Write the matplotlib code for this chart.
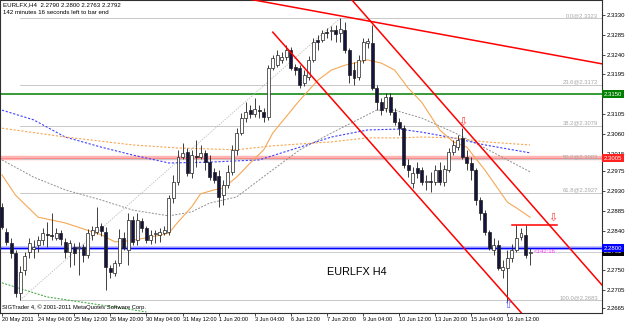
import matplotlib
matplotlib.use("Agg")
import matplotlib.pyplot as plt

# EURLFX H4 bars, 20 May 2011 20:00 .. 17 Jun 08:00
opens = [
    2.2894, 2.2837, 2.2812, 2.2790, 2.2699, 2.2751, 2.2792, 2.2799, 2.2808, 2.2819,
    2.2833, 2.2831, 2.2824, 2.2835, 2.2815, 2.2792, 2.2803, 2.2801, 2.2803, 2.2785,
    2.2831, 2.2837, 2.2851, 2.2837, 2.2756, 2.2744, 2.2767, 2.2824, 2.2797, 2.2865,
    2.2819, 2.2862, 2.2846, 2.2819, 2.2833, 2.2831, 2.2835, 2.2837, 2.2915, 2.2951,
    2.3008, 2.3019, 2.2971, 2.3010, 2.3008, 2.3017, 2.2997, 2.2974, 2.2964, 2.2921,
    2.2944, 2.2974, 2.3024, 2.3062, 2.3096, 2.3114, 2.3105, 2.3114, 2.3110, 2.3098,
    2.3210, 2.3216, 2.3228, 2.3235, 2.3250, 2.3212, 2.3210, 2.3176, 2.3189, 2.3228,
    2.3273, 2.3273, 2.3291, 2.3294, 2.3296, 2.3289, 2.3296, 2.3250, 2.3205, 2.3189,
    2.3228, 2.3266, 2.3266, 2.3164, 2.3132, 2.3119, 2.3144, 2.3110, 2.3087, 2.3073,
    2.2990, 2.2948, 2.2983, 2.2978, 2.2951, 2.2953, 2.2951, 2.2978, 2.2951, 2.2978,
    2.3019, 2.3030, 2.3051, 2.3008, 2.2994, 2.2978, 2.2910, 2.2881, 2.2837, 2.2797,
    2.2808, 2.2751, 2.2756, 2.2778, 2.2797, 2.2826, 2.2831, 2.2790,
]
highs = [
    2.2903, 2.2846, 2.2824, 2.2797, 2.2760, 2.2792, 2.2824, 2.2819, 2.2828, 2.2846,
    2.2860, 2.2881, 2.2846, 2.2842, 2.2824, 2.2819, 2.2812, 2.2815, 2.2810, 2.2844,
    2.2851, 2.2894, 2.2858, 2.2849, 2.2762, 2.2774, 2.2844, 2.2837, 2.2881, 2.2874,
    2.2881, 2.2869, 2.2851, 2.2842, 2.2842, 2.2846, 2.2851, 2.2921, 2.2967, 2.3024,
    2.3039, 2.3028, 2.3024, 2.3046, 2.3035, 2.3024, 2.3012, 2.2983, 2.2978, 2.2955,
    2.2990, 2.3035, 2.3073, 2.3108, 2.3132, 2.3126, 2.3142, 2.3126, 2.3119, 2.3216,
    2.3239, 2.3250, 2.3246, 2.3262, 2.3257, 2.3219, 2.3216, 2.3205, 2.3237, 2.3278,
    2.3285, 2.3296, 2.3300, 2.3305, 2.3307, 2.3323, 2.3314, 2.3255, 2.3223, 2.3239,
    2.3278, 2.3278, 2.3307, 2.3171, 2.3142, 2.3153, 2.3153, 2.3119, 2.3096, 2.3080,
    2.3002, 2.2985, 2.2997, 2.2985, 2.2967, 2.2974, 2.2990, 2.2997, 2.2990, 2.3028,
    2.3046, 2.3058, 2.3073, 2.3024, 2.3007, 2.2983, 2.2917, 2.2887, 2.2842, 2.2824,
    2.2819, 2.2774, 2.2797, 2.2810, 2.2853, 2.2846, 2.2853, 2.2800,
]
lows = [
    2.2844, 2.2808, 2.2778, 2.2690, 2.2683, 2.2740, 2.2778, 2.2778, 2.2792, 2.2808,
    2.2803, 2.2819, 2.2819, 2.2808, 2.2778, 2.2758, 2.2762, 2.2740, 2.2769, 2.2778,
    2.2819, 2.2833, 2.2828, 2.2706, 2.2733, 2.2737, 2.2760, 2.2797, 2.2762, 2.2808,
    2.2808, 2.2837, 2.2812, 2.2810, 2.2812, 2.2815, 2.2831, 2.2831, 2.2903, 2.2944,
    2.3002, 2.2964, 2.2960, 2.2985, 2.3002, 2.2978, 2.2955, 2.2948, 2.2894, 2.2899,
    2.2937, 2.2967, 2.3012, 2.3058, 2.3087, 2.3096, 2.3098, 2.3096, 2.3087, 2.3092,
    2.3205, 2.3212, 2.3221, 2.3228, 2.3205, 2.3194, 2.3164, 2.3169, 2.3182, 2.3223,
    2.3250, 2.3269, 2.3278, 2.3273, 2.3269, 2.3269, 2.3244, 2.3176, 2.3171, 2.3182,
    2.3221, 2.3255, 2.3160, 2.3114, 2.3103, 2.3110, 2.3103, 2.3080, 2.3058, 2.2983,
    2.2962, 2.2937, 2.2960, 2.2944, 2.2933, 2.2928, 2.2944, 2.2944, 2.2942, 2.2974,
    2.3012, 2.3024, 2.3002, 2.2978, 2.2955, 2.2899, 2.2865, 2.2831, 2.2797, 2.2785,
    2.2751, 2.2733, 2.2676, 2.2769, 2.2792, 2.2819, 2.2778, 2.2763,
]
closes = [
    2.2849, 2.2815, 2.2790, 2.2699, 2.2746, 2.2783, 2.2812, 2.2803, 2.2819, 2.2835,
    2.2831, 2.2828, 2.2835, 2.2821, 2.2792, 2.2812, 2.2790, 2.2803, 2.2785, 2.2835,
    2.2842, 2.2849, 2.2840, 2.2758, 2.2746, 2.2767, 2.2824, 2.2801, 2.2865, 2.2815,
    2.2865, 2.2846, 2.2819, 2.2831, 2.2835, 2.2837, 2.2842, 2.2915, 2.2951, 2.3008,
    2.3017, 2.2971, 2.3012, 2.3008, 2.3017, 2.2997, 2.2962, 2.2955, 2.2917, 2.2944,
    2.2974, 2.3024, 2.3062, 2.3096, 2.3110, 2.3105, 2.3117, 2.3112, 2.3098, 2.3210,
    2.3232, 2.3239, 2.3235, 2.3250, 2.3210, 2.3205, 2.3171, 2.3194, 2.3228, 2.3269,
    2.3269, 2.3289, 2.3289, 2.3296, 2.3287, 2.3298, 2.3250, 2.3194, 2.3187, 2.3228,
    2.3269, 2.3271, 2.3164, 2.3132, 2.3114, 2.3144, 2.3110, 2.3087, 2.3073, 2.2990,
    2.2978, 2.2971, 2.2971, 2.2951, 2.2953, 2.2951, 2.2978, 2.2951, 2.2980, 2.3019,
    2.3035, 2.3046, 2.3008, 2.2994, 2.2978, 2.2910, 2.2881, 2.2837, 2.2801, 2.2808,
    2.2756, 2.2758, 2.2778, 2.2797, 2.2824, 2.2835, 2.2785, 2.2792,
]

# moving averages (bar index, price)
ma_fast_bars = [0, 3, 8, 14, 22, 25, 28, 33, 37, 39, 42, 44, 47, 49, 52, 55, 58, 60, 66, 70,
                73, 76, 81, 84, 87, 90, 93, 97, 100, 103, 107, 112, 114, 117]
ma_fast = [2.2967, 2.2921, 2.2871, 2.2858, 2.2831, 2.2815, 2.2817, 2.2826, 2.2835, 2.2860,
           2.2894, 2.2924, 2.2933, 2.2937, 2.2962, 2.2994, 2.3024, 2.3062, 2.3137, 2.3182,
           2.3205, 2.3216, 2.3228, 2.3221, 2.3205, 2.3164, 2.3132, 2.3069, 2.3042, 2.3030,
           2.2978, 2.2905, 2.2892, 2.2871]
ma_slow_bars = [0, 14, 29, 39, 52, 60, 73, 81, 88, 93, 100, 107, 117]
ma_slow = [2.3073, 2.3053, 2.3035, 2.3028, 2.3024, 2.3033, 2.3042, 2.3051, 2.3051, 2.3053,
           2.3051, 2.3042, 2.3035]
ma_blue_bars = [0, 7, 14, 22, 29, 37, 46, 57, 66, 73, 81, 88, 93, 100, 107, 117]
ma_blue = [2.3114, 2.3092, 2.3053, 2.3030, 2.3012, 2.2994, 2.2996, 2.3001, 2.3030, 2.3053,
           2.3069, 2.3071, 2.3064, 2.3051, 2.3035, 2.3017]
ma_gray_bars = [0, 7, 14, 22, 29, 37, 42, 46, 52, 59, 66, 73, 83, 87, 93, 100, 107, 117]
ma_gray = [2.3001, 2.2962, 2.2933, 2.2910, 2.2887, 2.2874, 2.2883, 2.2903, 2.2917, 2.2971,
           2.3024, 2.3062, 2.3114, 2.3114, 2.3096, 2.3064, 2.3028, 2.2974]
ma_green_bars = [0, 10, 32]
ma_green = [2.2722, 2.2690, 2.2656]

time_label_bars = [0, 8, 16, 24, 32, 40, 48, 56, 64, 72, 80, 88, 96, 104, 112]
time_labels = ["20 May 2011", "24 May 04:00", "25 May 12:00", "26 May 20:00", "30 May 04:00",
               "31 May 12:00", "1 Jun 20:00", "3 Jun 04:00", "6 Jun 12:00", "7 Jun 20:00",
               "9 Jun 04:00", "10 Jun 12:00", "13 Jun 20:00", "15 Jun 04:00", "16 Jun 12:00"]
price_ticks = [2.3330, 2.3285, 2.3240, 2.3195, 2.3105, 2.3060, 2.3015, 2.2975, 2.2930,
               2.2885, 2.2840, 2.2750, 2.2705, 2.2665]

fib_pcts = ["0.0", "23.6", "38.2", "50.0", "61.8", "100.0"]
fib_prices = [2.3323, 2.3172, 2.3079, 2.3003, 2.2927, 2.2683]
fib_low_bar, fib_high_bar = 4, 75

green_level = 2.3150
red_level = 2.3005
blue_level = 2.2800
last_price = 2.2792

# trend lines (bar, price) pairs
line_long = ([50, 133], [2.3375, 2.3219])
line_chan_top = ([70, 135], [2.3452, 2.2693])
line_chan_bot = ([60, 125], [2.3291, 2.2539])
line_resist = ([113, 123], [2.2853, 2.2853])
down_arrows = ([102, 122], [2.3087, 2.2869])
up_arrows = ([112], [2.2672])

W, H = 625, 323
fig = plt.figure(figsize=(W / 100, H / 100), dpi=100)
ax = fig.add_axes([0, 10 / H, 602 / W, 313 / H])
ax.set_xlim(-0.44, 132.95)
ax.set_ylim(2.26535, 2.3364)

FONT = "Liberation Sans"

# horizontal levels
ax.axhline(red_level, color="#ffb4b4", lw=3.2, zorder=1)
ax.axhline(red_level, color="#ff8080", lw=0.6, zorder=1)
ax.axhline(blue_level, color="#b8b8ff", lw=2.6, zorder=1)
ax.axhline(blue_level, color="#0000ff", lw=1.0, zorder=1)
ax.axhline(green_level, color="#008000", lw=1.1, zorder=1)
ax.axhline(last_price, color="#c8c8c8", lw=0.6, zorder=1)

# fibonacci
for pct, p in zip(fib_pcts, fib_prices):
    ax.plot([fib_low_bar, 140], [p, p], color="#c8c8c8", lw=0.7, zorder=1)
    ax.text(0.993, p, f"{pct}@{p:.4f}", transform=ax.get_yaxis_transform(),
            ha="right", va="bottom", fontsize=4.2, color="#a8a8a8", family=FONT)
ax.plot([fib_low_bar, fib_high_bar], [fib_prices[-1], fib_prices[0]],
        color="#b8b8b8", lw=0.6, ls=(0, (1.5, 1.5)), zorder=1)

# moving averages
ax.plot(ma_green_bars, ma_green, color="#30a030", lw=0.7, ls=(0, (2, 1.5)), zorder=2)
ax.plot(ma_gray_bars, ma_gray, color="#909090", lw=0.7, ls=(0, (2, 1.5)), zorder=2)
ax.plot(ma_blue_bars, ma_blue, color="#4040ff", lw=0.8, ls=(0, (2, 1.5)), zorder=2)
ax.plot(ma_slow_bars, ma_slow, color="#f5a855", lw=0.8, ls=(0, (2, 1.5)), zorder=2)
ax.plot(ma_fast_bars, ma_fast, color="#f5a855", lw=0.8, zorder=2)

# candles
for i, (o, h, l, c) in enumerate(zip(opens, highs, lows, closes)):
    ax.vlines(i, l, h, color="#202020", lw=0.6, zorder=3)
    lo, hi = min(o, c), max(o, c)
    if hi - lo < 0.00008:
        ax.hlines((o + c) / 2, i - 0.35, i + 0.35, color="#202020", lw=0.7, zorder=4)
        continue
    face = "white" if c >= o else "#14143c"
    ax.bar(i, hi - lo, bottom=lo, width=0.66, color=face, edgecolor="#202020",
           linewidth=0.5, zorder=4)

# trend lines
for xs, ys in (line_long, line_chan_top, line_chan_bot, line_resist):
    ax.plot(xs, ys, color="#ff0000", lw=1.1, zorder=5)

for b, p in zip(*down_arrows):
    ax.text(b, p, "\u21e9", color="#ff4040", fontsize=8, ha="center", va="center", zorder=6)
for b, p in zip(*up_arrows):
    ax.text(b, p, "\u21e7", color="#6060ff", fontsize=8, ha="center", va="center", zorder=6)

# axes styling
for s in ax.spines.values():
    s.set_color("#303030")
    s.set_linewidth(0.8)
ax.yaxis.tick_right()
ax.set_yticks(price_ticks)
ax.set_yticklabels([f"{p:.4f}" for p in price_ticks], family=FONT)
ax.tick_params(axis="y", direction="out", length=2, width=0.5, pad=1.5, labelsize=4.3)
ax.set_xticks(time_label_bars)
ax.set_xticklabels(time_labels, ha="left", family=FONT)
ax.tick_params(axis="x", direction="out", length=2, width=0.5, pad=0.8, labelsize=4.0)

# price boxes on the right scale
ytr = ax.get_yaxis_transform()
for p, col in ((last_price, "#000000"), (blue_level, "#0000ff"),
               (green_level, "#008000"), (red_level, "#ff2020")):
    ax.text(1.003, p, f"{p:.4f}", transform=ytr, ha="left", va="center", fontsize=4.3,
            color="white", family=FONT, clip_on=False, zorder=8,
            bbox=dict(boxstyle="square,pad=0.25", fc=col, ec="none"))

ax.text(117.8, last_price, "<142:16", color="#ff30ff", fontsize=4.3, va="center",
        family=FONT, zorder=7)

# texts
fig.text(3 / W, 1 - 5 / H, "EURLFX,H4  2.2790 2.2800 2.2763 2.2792", fontsize=4.4,
         va="center", family=FONT)
fig.text(3 / W, 1 - 12 / H, "142 minutes 16 seconds left to bar end", fontsize=4.4,
         va="center", family=FONT)
fig.text(2 / W, 1 - 307 / H, "SIGTrader 4, \u00a9 2001-2011 MetaQuotes Software Corp.",
         fontsize=4.2, va="center", family=FONT)
fig.text(327 / W, 1 - 272 / H, "EURLFX H4", fontsize=7.8, va="center", family=FONT)

fig.savefig("out.png", dpi=100)
